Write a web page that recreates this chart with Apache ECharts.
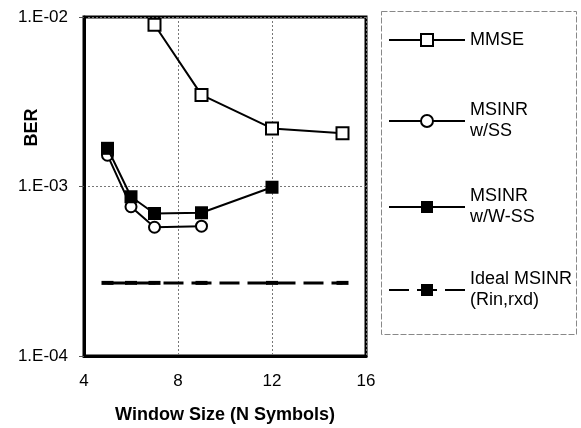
<!DOCTYPE html>
<html>
<head>
<meta charset="utf-8">
<script src="https://cdn.jsdelivr.net/npm/echarts@6/dist/echarts.min.js"></script>
<style>
html,body{margin:0;padding:0;background:#fff;}
#main{width:581px;height:428px;}
</style>
</head>
<body>
<div id="main"></div>
<script>
// Data
const mmseX = [7, 9, 12, 15];
const mmseY = [0.0090, 0.00347, 0.00220, 0.00206];
const ssX = [5, 6, 7, 9];
const ssY = [0.00153, 0.00076, 0.000575, 0.000583];
const wssX = [5, 6, 7, 9, 12];
const wssY = [0.00168, 0.00087, 0.000693, 0.000700, 0.00099];
const idealX = [5, 6, 7, 9, 12, 15];
const idealY = [0.00027, 0.00027, 0.00027, 0.00027, 0.00027, 0.00027];
const xTicks = [4, 8, 12, 16];
const yTickLabels = {'-2': '1.E-02', '-3': '1.E-03', '-4': '1.E-04'};
const seriesNames = ['MMSE', 'MSINR w/SS', 'MSINR w/W-SS', 'Ideal MSINR (Rin,rxd)'];
const legendLabels = {
  'MMSE': 'MMSE',
  'MSINR w/SS': 'MSINR\nw/SS',
  'MSINR w/W-SS': 'MSINR\nw/W-SS',
  'Ideal MSINR (Rin,rxd)': 'Ideal MSINR\n(Rin,rxd)'
};

function pairs(xs, ys) { return xs.map((x, i) => [x, ys[i]]); }

const FONT = 'Liberation Sans, Arial, sans-serif';
const chart = echarts.init(document.getElementById('main'), null, {renderer: 'canvas'});

const legendCenters = [40, 121, 207, 290];
function makeLegend(i) {
  const two = legendLabels[seriesNames[i]].indexOf('\n') >= 0;
  return {
    data: [seriesNames[i]],
    left: 388,
    top: two ? legendCenters[i] - 31.5 : legendCenters[i] - 10.5,
    padding: 0,
    itemWidth: 76,
    itemHeight: 15,
    itemGap: 0,
    selectedMode: false,
    formatter: n => legendLabels[n],
    textStyle: {
      fontFamily: FONT, fontSize: 18, color: '#000', lineHeight: 21,
      padding: two ? [21, 0, 0, 0] : 0
    }
  };
}

const option = {
  backgroundColor: '#fff',
  animation: false,
  grid: {
    left: 84, right: 215, top: 17, bottom: 72,
    containLabel: false, outerBoundsMode: 'none',
    show: true, borderColor: '#000', borderWidth: 3, backgroundColor: 'transparent'
  },
  legend: [0, 1, 2, 3].map(makeLegend),
  graphic: [{
    type: 'rect',
    shape: {x: 381.5, y: 11.5, width: 195, height: 323},
    style: {fill: 'none', stroke: '#888', lineWidth: 1, lineDash: [6, 2]},
    z: -1
  }],
  xAxis: {
    type: 'value', min: 4, max: 16, interval: 4,
    name: 'Window Size (N Symbols)', nameLocation: 'middle', nameGap: 50,
    nameMoveOverlap: false,
    nameTextStyle: {fontFamily: FONT, fontSize: 18, fontWeight: 'bold', color: '#000'},
    axisLine: {show: true, lineStyle: {color: '#000', width: 3}},
    axisTick: {show: false},
    axisLabel: {
      fontFamily: FONT, fontSize: 17, color: '#000', margin: 17,
      customValues: xTicks
    },
    splitLine: {show: true, lineStyle: {color: '#777', width: 1, type: [2, 2]}}
  },
  yAxis: {
    type: 'log', logBase: 10, min: 0.0001, max: 0.01,
    name: 'BER', nameLocation: 'middle', nameGap: 43,
    nameMoveOverlap: false,
    nameTextStyle: {fontFamily: FONT, fontSize: 18, fontWeight: 'bold', color: '#000', padding: [0, 0, 0, 118]},
    axisLine: {show: true, lineStyle: {color: '#000', width: 3}},
    axisTick: {show: true, length: 5, lineStyle: {color: '#555', width: 1}},
    axisLabel: {
      fontFamily: FONT, fontSize: 17, color: '#000', margin: 16,
      formatter: v => yTickLabels[String(Math.round(Math.log10(v)))] || ''
    },
    splitLine: {show: true, lineStyle: {color: '#777', width: 1, type: [2, 2]}}
  },
  series: [
    {
      name: seriesNames[0], type: 'line', data: pairs(mmseX, mmseY),
      symbol: 'rect', symbolSize: 12,
      lineStyle: {color: '#000', width: 2},
      itemStyle: {color: '#fff', borderColor: '#000', borderWidth: 2},
      z: 3
    },
    {
      name: seriesNames[1], type: 'line', data: pairs(ssX, ssY),
      symbol: 'circle', symbolSize: 11,
      lineStyle: {color: '#000', width: 2},
      itemStyle: {color: '#fff', borderColor: '#000', borderWidth: 2},
      z: 3
    },
    {
      name: seriesNames[2], type: 'line', data: pairs(wssX, wssY),
      symbol: 'rect', symbolSize: 13,
      lineStyle: {color: '#000', width: 2},
      itemStyle: {color: '#000', borderColor: '#000', borderWidth: 0},
      z: 4
    },
    {
      name: seriesNames[3], type: 'line', data: pairs(idealX, idealY),
      symbol: 'rect', symbolSize: [12, 4],
      lineStyle: {color: '#000', width: 3, type: [20, 8]},
      itemStyle: {color: '#000', borderWidth: 0},
      z: 2
    }
  ]
};
chart.setOption(option);
</script>
</body>
</html>
